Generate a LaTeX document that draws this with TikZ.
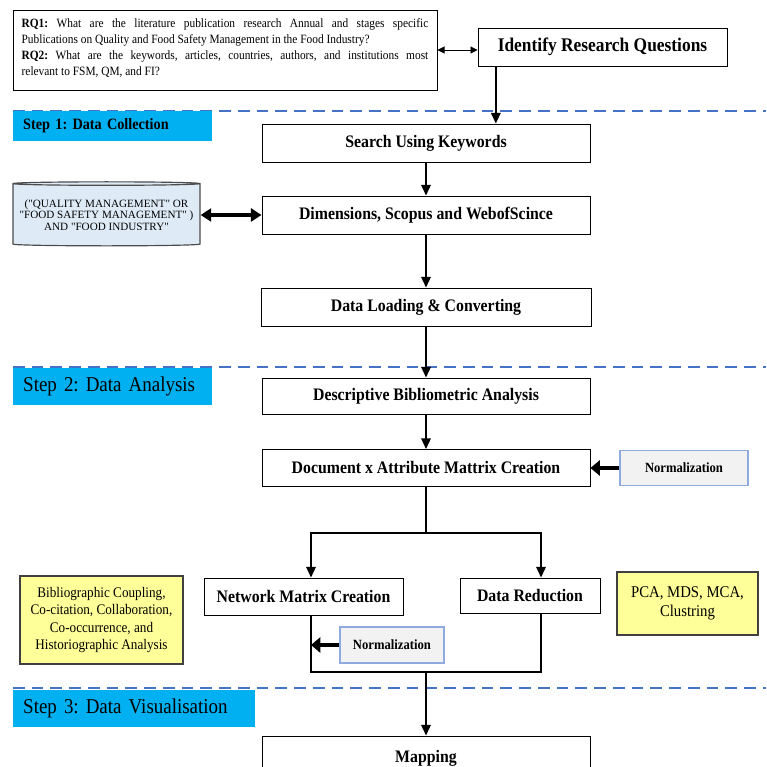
\documentclass[tikz,border=0pt]{standalone}
\usepackage{fontspec}
\setmainfont{Liberation Serif}[FakeStretch=0.9]
\newfontfamily\qryfont{Liberation Serif}[Ligatures=TeXOff]
\usepackage{tikz}
\usetikzlibrary{shapes.geometric, arrows.meta, calc}

\definecolor{stepblue}{HTML}{00B0F0}
\definecolor{dashblue}{HTML}{4472C4}
\definecolor{qryfill}{HTML}{DEEBF7}
\definecolor{normfill}{HTML}{F2F2F2}
\definecolor{normline}{HTML}{8FAADC}
\definecolor{noteyellow}{HTML}{FFFF99}

\begin{document}
\frenchspacing
\begin{tikzpicture}[x=0.03cm, y=-0.03cm,
        box/.style = {draw, line width=0.8pt, fill=white, minimum width=9.84cm, minimum height=1.14cm, inner sep=0pt, font=\fontsize{15}{17}\selectfont\bfseries},
        stepbox/.style = {fill=stepblue, anchor=west, inner xsep=0.3cm, inner ysep=0pt, align=left},
        normbox/.style = {draw=normline, line width=1pt, fill=normfill, inner sep=0pt, font=\fontsize{12}{14}\selectfont\bfseries},
        notebox/.style = {draw=black!75, line width=1pt, fill=noteyellow, inner sep=0pt, align=center},
        stepline/.style = {dashblue, line width=2.2pt, dash pattern=on 10pt off 6pt},
        link/.style = {line width=1.5pt},
        arr/.style = {line width=1.5pt, -{Triangle[length=9pt, width=8pt]}},
        fat/.style = {line width=4pt, -{Triangle[length=8pt, width=13pt]}},
        fatdbl/.style = {line width=3pt, {Triangle[length=9pt, width=11pt]}-{Triangle[length=9pt, width=11pt]}},
        thindbl/.style = {line width=0.8pt, {Triangle[length=6pt, width=6pt]}-{Triangle[length=6pt, width=6pt]}}]
        \useasboundingbox (0,0) rectangle (766,767);
        \clip (0,0) rectangle (766,767);
        % step separators
        \draw[stepline] (13,111) -- (766,111);
        \draw[stepline] (13,367) -- (766,367);
        \draw[stepline] (13,688) -- (766,688);
        \node[stepbox, text width=5.37cm, minimum height=0.9cm, font=\fontsize{13.5}{16}\selectfont\bfseries] (s1) at (13,126) {Step 1: Data Collection};
        \node[stepbox, text width=5.37cm, minimum height=1.11cm, font=\fontsize{18}{20}\selectfont] (s2) at (13,386.5) {Step 2: Data Analysis};
        \node[stepbox, text width=6.66cm, minimum height=1.11cm, font=\fontsize{18}{20}\selectfont] (s3) at (13,708.5) {Step 3: Data Visualisation};
        % research questions
        \node[draw, line width=0.8pt, minimum width=12.72cm, minimum height=2.4cm, text width=12.2cm, align=justify, inner sep=0pt, font=\fontsize{10.8}{13.6}\selectfont] (rq) at (225,50) {\textbf{RQ1:} What are the literature publication research Annual and stages specific\linebreak Publications on Quality and Food Safety Management in the Food Industry?\\\textbf{RQ2:} What are the keywords, articles, countries, authors, and institutions most\linebreak relevant to FSM, QM, and FI?\vspace{3pt}};
        \node[box, minimum width=7.47cm, font=\fontsize{16.5}{18}\selectfont\bfseries] (idq) at (602.5,47) {Identify Research Questions};
        % step 1
        \node[box] (srch) at (426,143) {Search Using Keywords};
        \node[box] (dims) at (426,215) {Dimensions, Scopus and WebofScince};
        \node[draw=black!70, line width=1pt, fill=qryfill, cylinder, shape border rotate=90, aspect=0.02, minimum width=5.61cm, minimum height=1.92cm, align=center, inner sep=0pt, font=\qryfont\fontsize{9.5}{10}\selectfont] (qry) at (106.5,215) {("QUALITY MANAGEMENT" OR\\"FOOD SAFETY MANAGEMENT" )\\AND "FOOD INDUSTRY"};
        \node[box, minimum width=9.9cm] (load) at (426,307) {Data Loading \& Converting};
        % step 2
        \node[box, minimum height=1.08cm] (desc) at (426,396) {Descriptive Bibliometric Analysis};
        \node[box, minimum height=1.11cm] (doc) at (426,468) {Document x Attribute Mattrix Creation};
        \node[normbox, minimum width=3.84cm, minimum height=1.05cm] (norm) at (684,468) {Normalization};
        \node[box, minimum width=5.97cm, minimum height=1.11cm] (net) at (303.5,596.5) {Network Matrix Creation};
        \node[box, minimum width=4.2cm, minimum height=1.05cm] (red) at (530,595.5) {Data Reduction};
        \node[notebox, minimum width=4.89cm, minimum height=2.64cm, font=\fontsize{12.5}{15}\selectfont] (bib) at (101.5,620) {Bibliographic Coupling,\\Co-citation, Collaboration,\\Co-occurrence, and\\Historiographic Analysis};
        \node[notebox, minimum width=4.23cm, minimum height=1.89cm, font=\fontsize{14}{16}\selectfont] (pca) at (687.5,603.5) {PCA, MDS, MCA,\\Clustring};
        \node[normbox, minimum width=3.12cm, minimum height=1.08cm] (norm2) at (392,645) {Normalization};
        % step 3
        \node[box, minimum height=1.32cm] (map) at (426,758) {Mapping};
        \coordinate (split) at (426,533);
        \coordinate (splitL) at (311,533);
        \coordinate (splitR) at (541,533);
        \coordinate (joinL) at (311,672);
        \coordinate (joinR) at (541,672);
        \coordinate (join) at (426,672);
        % connectors
        \draw[thindbl] (rq.east) -- (rq.east -| idq.west);
        \draw[arr] ([xshift=-3.2cm]idq.south) -- ([xshift=-3.2cm]idq.south |- srch.north);
        \draw[arr] (srch) -- (dims);
        \draw[fatdbl] (qry.east) -- (qry.east -| dims.west);
        \draw[arr] (dims) -- (load);
        \draw[arr] (load) -- (desc);
        \draw[arr] (desc) -- (doc);
        \draw[fat] (norm) -- (doc);
        \draw[link] (doc) -- (split);
        \draw[link, {Triangle[length=9pt, width=8pt]}-{Triangle[length=9pt, width=8pt]}] (splitL |- net.north) |- (splitR) -- (splitR |- red.north);
        \draw[link] (splitL |- net.south) -- (joinL) -- (joinR) -- (splitR |- red.south);
        \draw[arr] (join) -- (map);
        \draw[fat] (norm2) -- (norm2 -| joinL);
\end{tikzpicture}
\end{document}
